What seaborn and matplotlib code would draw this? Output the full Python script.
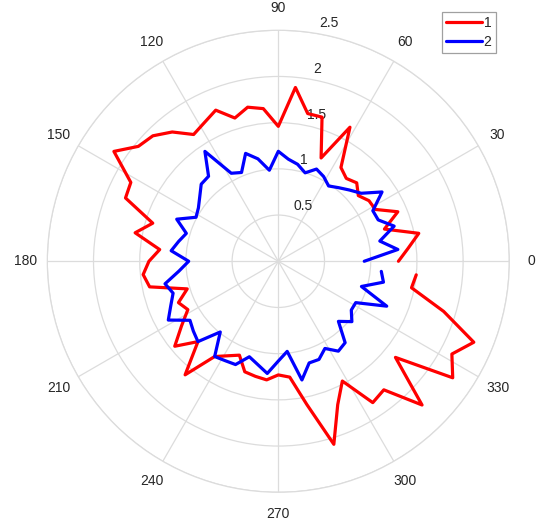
import numpy as np
import pandas as pd
import matplotlib
matplotlib.use("Agg")
import matplotlib.pyplot as plt
import matplotlib.transforms as mtransforms
from matplotlib.lines import Line2D
import seaborn as sns

# 64 samples around the circle (step 5.625 deg), last sample at 354.375 deg
angles_deg = np.arange(64) * 5.625

series_1 = [1.30, 1.41, 1.55, 1.20, 1.40, 1.19, 1.18, 1.12, 1.20, 1.16,
            1.22, 1.645, 1.21, 1.63, 1.63, 1.89, 1.46, 1.66, 1.70, 1.62,
            1.77, 1.70, 1.65, 1.81, 1.92, 1.96, 2.14, 1.81, 1.79, 1.42,
            1.58, 1.29, 1.40, 1.47, 1.42, 1.03, 1.17, 1.11, 1.26, 1.45,
            1.23, 1.59, 1.24, 1.16, 1.10, 1.25, 1.27, 1.29, 1.23, 1.26,
            1.58, 2.07, 1.68, 1.47, 1.84, 1.80, 2.20, 1.64, 2.27, 2.13,
            2.29, 1.87, 1.47, 1.50]

series_2 = [0.93, 1.30, 1.12, 1.31, 1.17, 1.16, 1.35, 1.16, 1.09, 1.03,
            0.98, 1.04, 1.08, 1.00, 1.07, 1.11, 1.19, 0.99, 1.13, 1.22,
            1.04, 1.08, 1.43, 1.19, 1.18, 1.10, 1.04, 1.01, 1.19, 1.04,
            1.10, 1.165, 0.97, 1.08, 1.25, 1.19, 1.26, 1.35, 1.15, 1.19,
            1.23, 0.99, 1.24, 1.22, 1.21, 1.08, 1.14, 1.22, 1.08, 0.98,
            1.31, 1.15, 1.15, 1.07, 1.17, 1.14, 0.92, 1.03, 0.95, 0.95,
            1.27, 0.94, 1.16, 1.12]

series_names = ["1", "2"]
series_colors = {"1": "#ff0000", "2": "#0000ff"}
theta_ticks = [0, 30, 60, 90, 120, 150, 180, 210, 240, 270, 300, 330]
r_ticks = [0.5, 1.0, 1.5, 2.0, 2.5]
r_tick_labels = ["0.5", "1", "1.5", "2", "2.5"]

df = pd.DataFrame({
    "theta": np.deg2rad(np.concatenate([angles_deg, angles_deg])),
    "r": series_1 + series_2,
    "series": [series_names[0]] * len(series_1) + [series_names[1]] * len(series_2),
})

sns.set_style("white")
plt.rcParams["font.family"] = ["Liberation Sans", "DejaVu Sans"]

grid_color = "#dcdcdc"
text_color = "#262626"

fig = plt.figure(figsize=(5.47, 5.27), dpi=100)
ax = fig.add_axes([0.0865, 0.0659, 0.8446, 0.8767], projection="polar")

sns.lineplot(data=df, x="theta", y="r", hue="series", palette=series_colors,
             hue_order=series_names, sort=False, estimator=None,
             linewidth=2.3, ax=ax, legend=False, zorder=3)

ax.set_ylim(0, 2.5)
ax.set_xticks(np.deg2rad(theta_ticks))
ax.set_xticklabels([str(t) for t in theta_ticks], fontsize=10, color=text_color)
ax.tick_params(axis="x", pad=5.5)
ax.set_yticks(r_ticks)
ax.set_yticklabels([])
ax.grid(True, color=grid_color, linewidth=0.9)
ax.spines["polar"].set_color(grid_color)
ax.spines["polar"].set_linewidth(0.9)
ax.set_xlabel("")
ax.set_ylabel("")

# radial labels sit just above-right of the 82 degree direction
offset = mtransforms.ScaledTranslation(9 / 100, 9.4 / 100, fig.dpi_scale_trans)
for r, lab in zip(r_ticks, r_tick_labels):
    ax.text(np.deg2rad(82), r, lab, transform=ax.transData + offset,
            ha="left", va="center", fontsize=10, color=text_color, zorder=1)

handles = [Line2D([0], [0], color=series_colors[n], lw=2.3) for n in series_names]
leg = fig.legend(handles, series_names, loc="upper right",
                 bbox_to_anchor=(0.906, 0.978), fontsize=10,
                 handlelength=2.6, handletextpad=0.1, borderpad=0.3,
                 labelspacing=0.35, borderaxespad=0.0, frameon=True,
                 fancybox=False, framealpha=1.0, edgecolor="#a0a0a0")
leg.get_frame().set_linewidth(0.9)

fig.savefig("out.png", dpi=100, facecolor="white")
